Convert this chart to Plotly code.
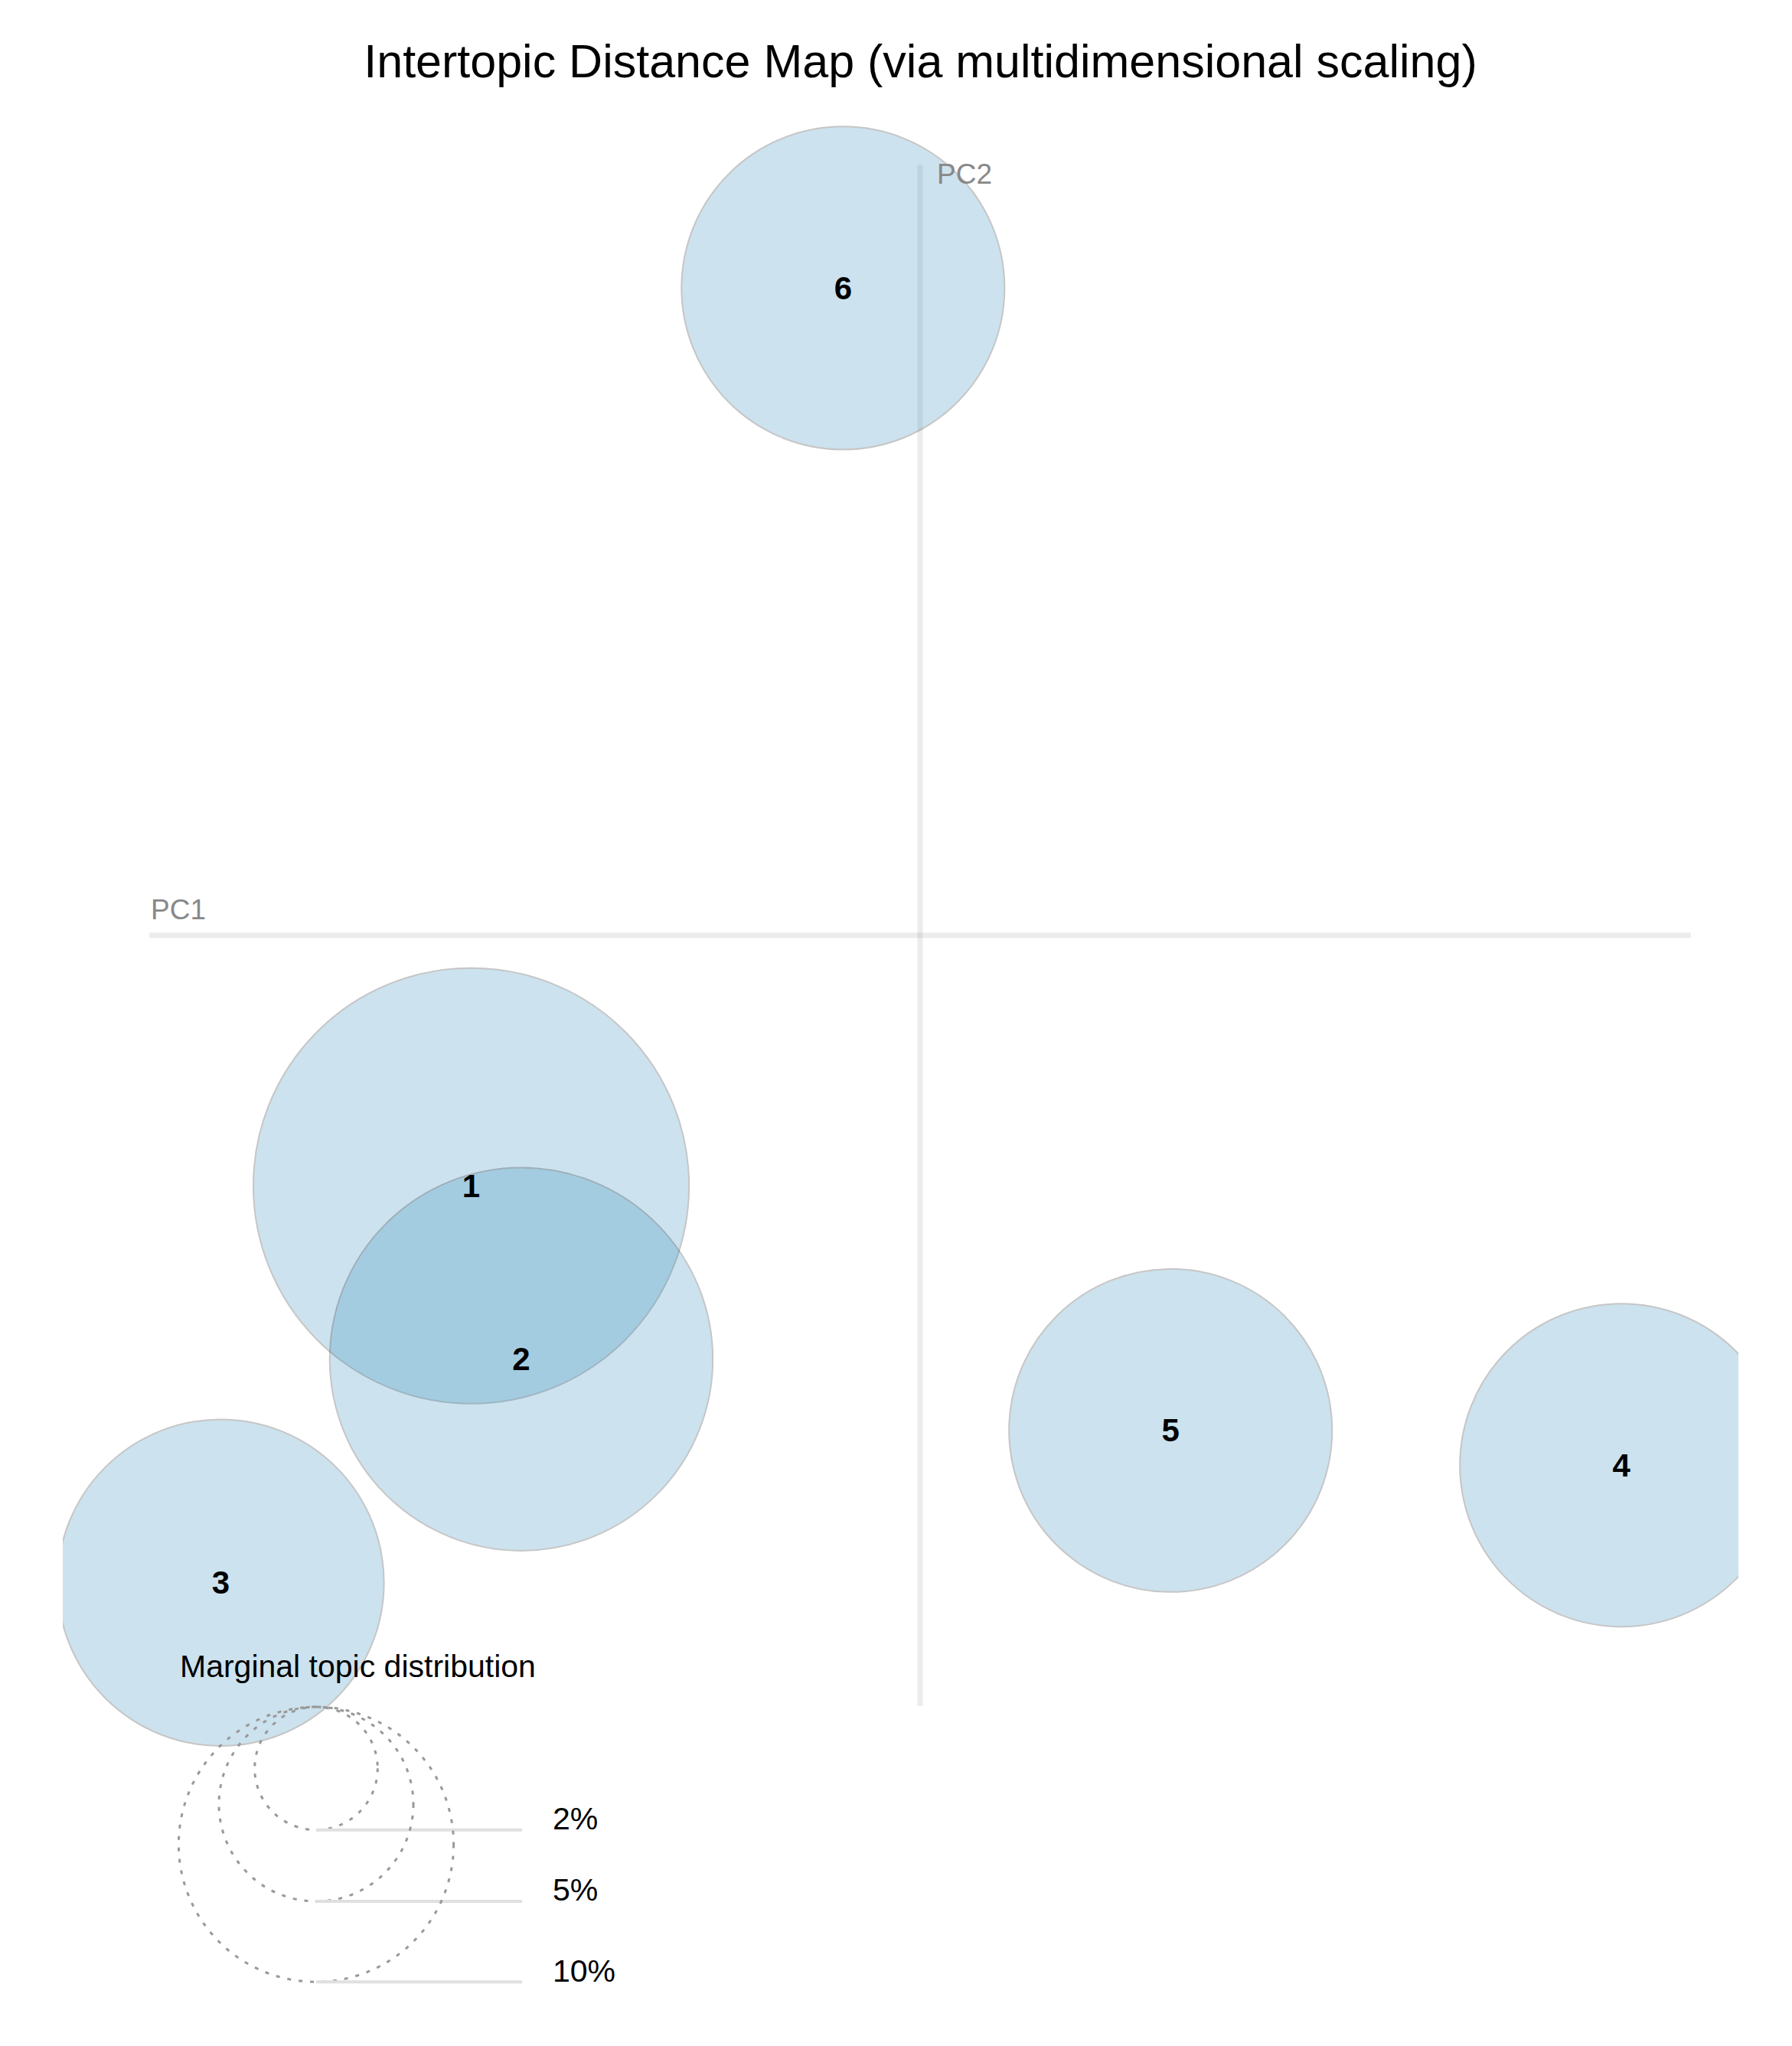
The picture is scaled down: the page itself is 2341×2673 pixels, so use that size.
import numpy as np
import plotly.graph_objects as go

# topic positions on the first two principal coordinates, and marginal share (%)
topics = ["1", "2", "3", "4", "5", "6"]
pc1 = [-0.233, -0.207, -0.363, 0.364, 0.130, -0.040]
pc2 = [-0.130, -0.220, -0.336, -0.275, -0.257, 0.336]
freq = [25.1, 19.4, 14.1, 13.8, 13.8, 13.8]

legend_pct = [2, 5, 10]
legend_labels = ["2%", "5%", "10%"]

W, H = 2341, 2673
OFF = 8                # default body margin of the html page
PX = 2517              # pixels per PC unit
R_K = 56.8             # circle radius (px) per sqrt(%)
CX, CY = 1202, 1222    # page position of the origin
CLIP_L, CLIP_R = 82, 2271   # page x where the circles get clipped
LABEL_DROP = 4         # topic numbers sit a few px below the centre
FONT = "Liberation Sans, Arial, sans-serif"


def dx(px):
    return (px - CX) / PX


def dy(py):
    return (CY - py) / PX


sizes = [2 * R_K * np.sqrt(f) for f in freq]

fig = go.Figure()
fig.add_trace(go.Scatter(
    x=pc1, y=pc2, mode="markers",
    marker=dict(size=sizes, sizemode="diameter", color="#1c80b6", opacity=0.22,
                line=dict(color="black", width=2)),
    text=topics, hovertemplate="Topic %{text}<extra></extra>",
    showlegend=False,
))
fig.add_trace(go.Scatter(
    x=pc1, y=[v - LABEL_DROP / PX for v in pc2], mode="text", text=topics,
    textposition="middle center",
    textfont=dict(family=FONT, size=42, color="black", weight="bold"),
    hoverinfo="skip", showlegend=False,
))

shapes = []
# PC axes
shapes.append(dict(type="line", x0=-0.4, x1=0.4, y0=0, y1=0, layer="below",
                   line=dict(color="rgba(128,128,128,0.15)", width=7)))
shapes.append(dict(type="line", x0=0, x1=0, y0=-0.4, y1=0.4, layer="below",
                   line=dict(color="rgba(128,128,128,0.15)", width=7)))

annotations = [
    dict(text="PC1", x=dx(195), y=dy(1188), xanchor="left", yanchor="middle",
         showarrow=False, font=dict(family=FONT, size=37, color="#888888")),
    dict(text="PC2", x=dx(1222), y=dy(227), xanchor="left", yanchor="middle",
         showarrow=False, font=dict(family=FONT, size=37, color="#888888")),
    dict(text="Marginal topic distribution", x=dx(233), y=dy(2177),
         xanchor="left", yanchor="middle", showarrow=False,
         font=dict(family=FONT, size=41, color="black")),
]

# size legend
leg_x = dx(413)
leg_top = dy(2230)
for p, lab in zip(legend_pct, legend_labels):
    r = R_K * np.sqrt(p) / PX
    bottom = leg_top - 2 * r
    shapes.append(dict(type="circle", x0=leg_x - r, x1=leg_x + r,
                       y0=bottom, y1=leg_top,
                       line=dict(color="#999999", width=3, dash="5px,10px")))
    shapes.append(dict(type="line", x0=leg_x, x1=dx(682), y0=bottom, y1=bottom,
                       line=dict(color="#e0e0e0", width=4)))
    annotations.append(dict(text=lab, x=dx(720), y=bottom + 14.7 / PX,
                            xanchor="left", yanchor="middle", showarrow=False,
                            font=dict(family=FONT, size=41, color="black")))

fig.update_layout(
    width=W, height=H,
    margin=dict(l=CLIP_L - OFF, r=W - (CLIP_R - OFF), t=0, b=0),
    paper_bgcolor="white", plot_bgcolor="white",
    title=dict(text="Intertopic Distance Map (via multidimensional scaling)",
               x=(1202.5 - OFF) / W, xanchor="center",
               y=1 - (79.5 - OFF) / H, yanchor="middle", yref="container",
               font=dict(family=FONT, size=61, color="black")),
    xaxis=dict(range=[dx(CLIP_L), dx(CLIP_R)], visible=False, fixedrange=True),
    yaxis=dict(range=[dy(H + OFF), dy(OFF)], visible=False, fixedrange=True),
    shapes=shapes,
    annotations=annotations,
)

fig.write_html("out.html")
